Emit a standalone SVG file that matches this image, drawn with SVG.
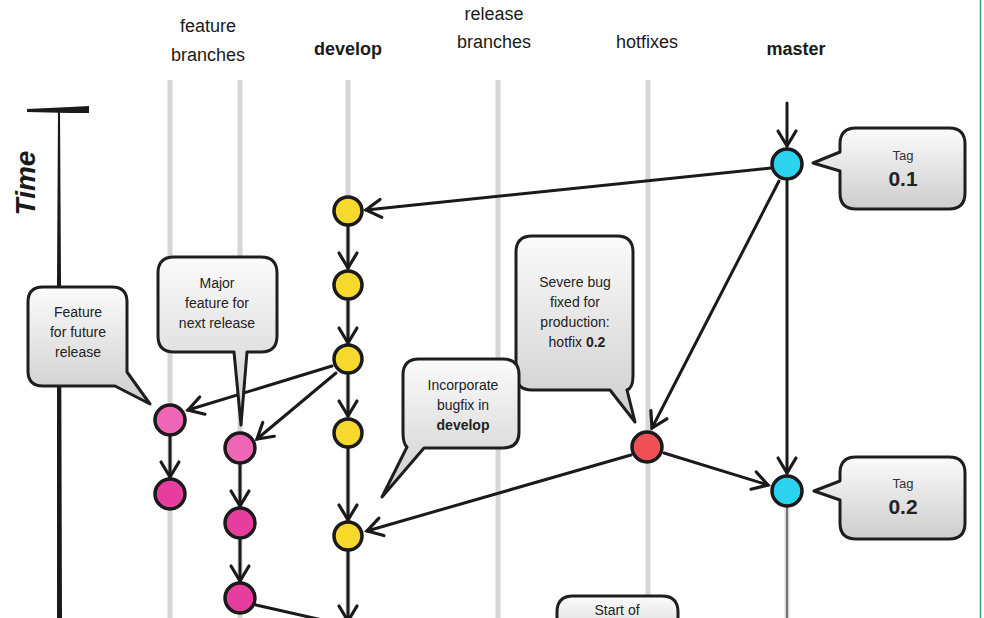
<svg xmlns="http://www.w3.org/2000/svg" width="984" height="618" viewBox="0 0 984 618">
<defs>
<linearGradient id="cg" x1="0" y1="0" x2="0" y2="1">
<stop offset="0" stop-color="#fbfbfb"/>
<stop offset="1" stop-color="#cdcdcd"/>
</linearGradient>
<marker id="ah" markerUnits="userSpaceOnUse" markerWidth="22" markerHeight="22" viewBox="0 0 22 22" refX="17" refY="11" orient="auto" overflow="visible">
<path d="M2,2 L17,11 L2,20" fill="none" stroke="#1a1a1a" stroke-width="3.2" stroke-linecap="round" stroke-linejoin="miter"/>
</marker>
</defs>
<style>
.hdr{font-family:"Liberation Sans",Arial,sans-serif;font-size:18px;fill:#1a1a1a;text-anchor:middle}
.b{font-weight:bold}
.ct{font-family:"Liberation Sans",Arial,sans-serif;font-size:14px;fill:#222;text-anchor:middle}
.tag{font-family:"Liberation Sans",Arial,sans-serif;font-size:13px;fill:#333;text-anchor:middle}
.tagn{font-family:"Liberation Sans",Arial,sans-serif;font-size:21px;font-weight:bold;fill:#222;text-anchor:middle}
.lane{stroke:#d6d6d6;stroke-width:5;fill:none}
.con{stroke:#1a1a1a;stroke-width:3;fill:none;stroke-linecap:round}
.call{fill:url(#cg);stroke:#1e1e1e;stroke-width:3;stroke-linejoin:round}
.node{stroke:#1a1a1a;stroke-width:3.5}
.dev{fill:#f6d92c}
.mas{fill:#2cd3ee}
.hot{fill:#ef4f57}
.fa{fill:#ef66b7}
.fb{fill:#e63d9e}
</style>
<rect width="984" height="618" fill="#ffffff"/>
<line x1="980.5" y1="0" x2="980.5" y2="618" stroke="#2e9e86" stroke-width="1.5"/>

<g id="headers">
<text class="hdr" x="208" y="32">feature</text>
<text class="hdr" x="208" y="61">branches</text>
<text class="hdr b" x="348" y="55">develop</text>
<text class="hdr" x="494" y="20">release</text>
<text class="hdr" x="494" y="48">branches</text>
<text class="hdr" x="647" y="48">hotfixes</text>
<text class="hdr b" x="796" y="55">master</text>
</g>

<g id="time-axis">
<path d="M27,109 L70,107 L89,106 L89,113 L70,113 L27,112 Z" fill="#1a1a1a"/>
<path d="M58,110 L60,110 L61,280 L62,618 L57,618 L57,280 Z" fill="#1a1a1a"/>
<text x="35" y="183" transform="rotate(-90 35 183)" font-family="'Liberation Sans',Arial,sans-serif" font-size="28" font-weight="bold" font-style="italic" fill="#1a1a1a" text-anchor="middle">Time</text>
</g>

<g id="lanes">
<line class="lane" x1="170" y1="80" x2="170" y2="618"/>
<line class="lane" x1="240" y1="80" x2="240" y2="618"/>
<line class="lane" x1="348" y1="80" x2="348" y2="618"/>
<line class="lane" x1="498" y1="80" x2="498" y2="618"/>
<line class="lane" x1="648" y1="80" x2="648" y2="600"/>
<line class="lane" x1="787" y1="505" x2="787" y2="618"/>
<line x1="787" y1="505" x2="787" y2="618" stroke="#555" stroke-width="1.5"/>
</g>

<g id="connectors">
<line class="con" x1="787" y1="103" x2="787" y2="146" marker-end="url(#ah)"/>
<line class="con" x1="771" y1="168" x2="366" y2="210" marker-end="url(#ah)"/>
<line class="con" x1="779" y1="181" x2="652" y2="428" marker-end="url(#ah)"/>
<line class="con" x1="787" y1="181" x2="787" y2="473" marker-end="url(#ah)"/>
<line class="con" x1="664" y1="453" x2="768" y2="485" marker-end="url(#ah)"/>
<line class="con" x1="631" y1="455" x2="367" y2="531" marker-end="url(#ah)"/>
<line class="con" x1="348" y1="226" x2="348" y2="268" marker-end="url(#ah)"/>
<line class="con" x1="348" y1="300" x2="348" y2="343" marker-end="url(#ah)"/>
<line class="con" x1="348" y1="375" x2="348" y2="416" marker-end="url(#ah)"/>
<line class="con" x1="348" y1="448" x2="348" y2="520" marker-end="url(#ah)"/>
<line class="con" x1="348" y1="552" x2="348" y2="621" marker-end="url(#ah)"/>
<line class="con" x1="332" y1="366" x2="188" y2="410" marker-end="url(#ah)"/>
<line class="con" x1="336" y1="373" x2="257" y2="439" marker-end="url(#ah)"/>
<line class="con" x1="170" y1="436" x2="170" y2="477" marker-end="url(#ah)"/>
<line class="con" x1="240" y1="464" x2="240" y2="506" marker-end="url(#ah)"/>
<line class="con" x1="240" y1="538" x2="240" y2="581" marker-end="url(#ah)"/>
<line class="con" x1="256" y1="605" x2="340" y2="624"/>
</g>

<g id="n-dev1"><circle class="node dev" cx="348" cy="211" r="14"/></g>
<g id="n-dev2"><circle class="node dev" cx="348" cy="285" r="14"/></g>
<g id="n-dev3"><circle class="node dev" cx="348" cy="359" r="14"/></g>
<g id="n-dev4"><circle class="node dev" cx="348" cy="433" r="14"/></g>
<g id="n-dev5"><circle class="node dev" cx="348" cy="536" r="14"/></g>
<g id="n-master01"><circle class="node mas" cx="787" cy="164" r="15"/></g>
<g id="n-master02"><circle class="node mas" cx="787" cy="491" r="15"/></g>
<g id="n-hotfix"><circle class="node hot" cx="647" cy="447" r="15"/></g>
<g id="n-featA"><circle class="node fa" cx="170" cy="420" r="15"/></g>
<g id="n-featB"><circle class="node fa" cx="240" cy="448" r="15"/></g>
<g id="n-featC"><circle class="node fb" cx="170" cy="494" r="15"/></g>
<g id="n-featD"><circle class="node fb" cx="240" cy="523" r="15"/></g>
<g id="n-featE"><circle class="node fb" cx="240" cy="598" r="15"/></g>

<g id="c-future">
<path class="call" d="M43,287 H112 Q127,287 127,302 V372 L150,404 L115,386 H43 Q28,386 28,371 V302 Q28,287 43,287 Z"/>
<text class="ct" x="78" y="317">Feature</text>
<text class="ct" x="78" y="337">for future</text>
<text class="ct" x="78" y="357">release</text>
</g>

<g id="c-major">
<path class="call" d="M174,257 H261 Q277,257 277,273 V336 Q277,352 261,352 H247 L241,425 L234,352 H174 Q158,352 158,336 V273 Q158,257 174,257 Z"/>
<text class="ct" x="217" y="288">Major</text>
<text class="ct" x="217" y="308">feature for</text>
<text class="ct" x="217" y="328">next release</text>
</g>

<g id="c-severe">
<path class="call" d="M532,236 H617 Q633,236 633,252 V376 Q633,388 627,390 L635,422 L610,390 H532 Q516,390 516,374 V252 Q516,236 532,236 Z"/>
<text class="ct" x="575" y="287">Severe bug</text>
<text class="ct" x="575" y="307">fixed for</text>
<text class="ct" x="575" y="327">production:</text>
<text class="ct" x="577" y="347">hotfix <tspan font-weight="bold">0.2</tspan></text>
</g>

<g id="c-incorporate">
<path class="call" d="M419,359 H503 Q519,359 519,375 V432 Q519,448 503,448 H424 L382,497 L407,447 Q403,444 403,432 V375 Q403,359 419,359 Z"/>
<text class="ct" x="463" y="390">Incorporate</text>
<text class="ct" x="463" y="410">bugfix in</text>
<text class="ct b" x="463" y="430">develop</text>
</g>

<g id="c-tag01">
<path class="call" d="M856,128 H949 Q965,128 965,144 V193 Q965,209 949,209 H856 Q840,209 840,193 V171 L813,163 L840,152 V144 Q840,128 856,128 Z"/>
<text class="tag" x="903" y="160">Tag</text>
<text class="tagn" x="903" y="186">0.1</text>
</g>

<g id="c-tag02">
<path class="call" d="M856,457 H949 Q965,457 965,473 V523 Q965,539 949,539 H856 Q840,539 840,523 V500 L814,491 L840,481 V473 Q840,457 856,457 Z"/>
<text class="tag" x="903" y="488">Tag</text>
<text class="tagn" x="903" y="514">0.2</text>
</g>

<g id="c-release">
<path class="call" d="M573,596 H662 Q678,596 678,612 V650 H557 V612 Q557,596 573,596 Z"/>
<text class="ct" x="617" y="615" font-size="12">Start of</text>
</g>
</svg>
